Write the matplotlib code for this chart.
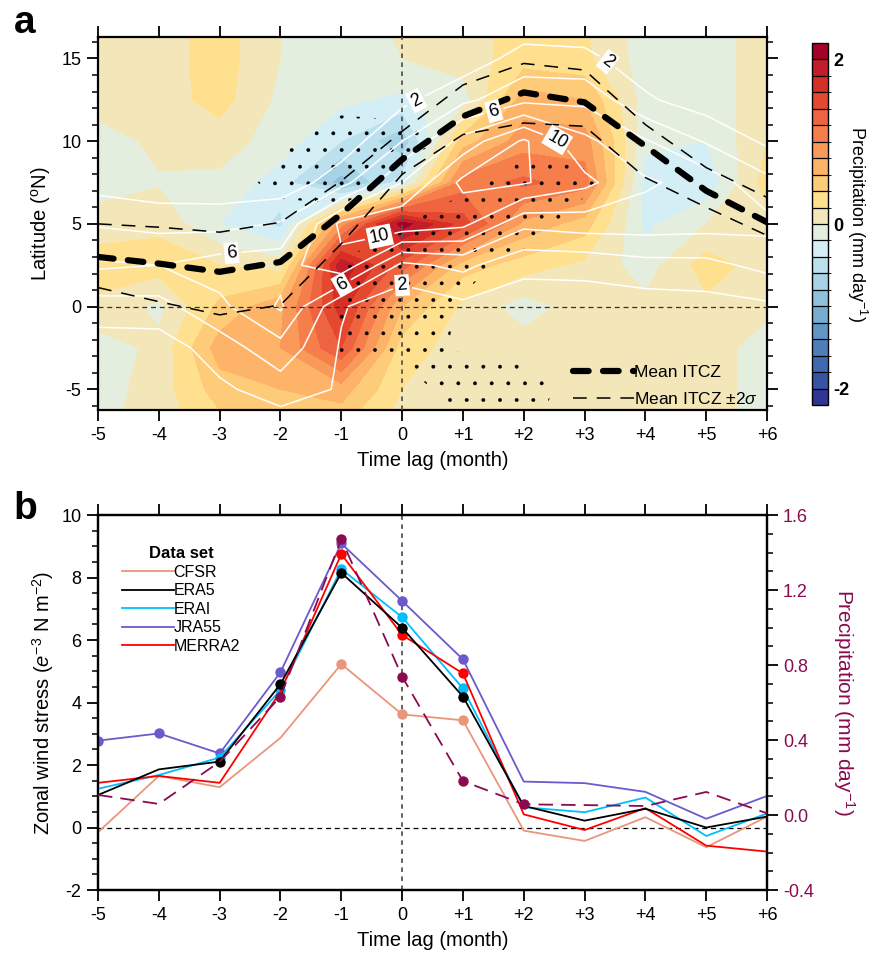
import numpy as np
import matplotlib
matplotlib.use('Agg')
import matplotlib.pyplot as plt
from matplotlib.colors import ListedColormap, BoundaryNorm
from matplotlib.lines import Line2D
from matplotlib.ticker import MultipleLocator, FixedLocator

plt.rcParams['font.family'] = ['Liberation Sans', 'DejaVu Sans']
plt.rcParams['mathtext.fontset'] = 'custom'
plt.rcParams['mathtext.rm'] = 'Liberation Sans'
plt.rcParams['mathtext.it'] = 'Liberation Sans:italic'
plt.rcParams['axes.unicode_minus'] = False
plt.rcParams['hatch.color'] = 'black'
plt.rcParams['hatch.linewidth'] = 0.3

# ---------------- data: panel a ----------------
months = [-5, -4, -3, -2, -1, 0, 1, 2, 3, 4, 5, 6]
lats = [-7.5, -5, -2.5, 0, 2.5, 5, 7.5, 10, 12.5, 15, 17.5]

# precipitation anomaly (mm/day), one list per month, values from south to north
anom_m5 = [-0.05, -0.1, -0.1, 0.15, 0.3, 0.1, -0.1, -0.1, 0.1, 0.1, 0.1]
anom_m4 = [0.1, 0.1, 0.05, -0.05, 0.3, 0.15, -0.02, 0.05, 0.1, 0.1, 0.1]
anom_m3 = [0.3, 0.5, 0.7, 0.45, 0.2, -0.2, -0.05, 0.1, 0.28, 0.3, 0.3]
anom_m2 = [0.4, 0.6, 0.8, 0.75, 0.1, -0.45, -0.3, -0.1, -0.05, 0.0, 0.0]
anom_m1 = [0.4, 0.7, 1.4, 1.7, 1.95, 0.9, -0.9, -0.4, -0.15, -0.1, -0.1]
anom_0 = [0.1, 0.2, 0.3, 0.6, 1.3, 2.1, -0.3, -0.75, -0.25, 0.0, 0.05]
anom_p1 = [0.1, 0.1, 0.1, 0.15, 0.5, 1.5, 1.1, 0.5, -0.1, 0.1, 0.1]
anom_p2 = [0.1, 0.1, 0.1, -0.1, 0.3, 0.75, 1.25, 0.9, 0.7, 0.3, 0.3]
anom_p3 = [0.1, 0.1, 0.1, 0.1, 0.15, 0.5, 1.1, 0.9, 0.6, 0.25, 0.2]
anom_p4 = [0.1, 0.1, 0.1, 0.05, -0.1, -0.25, -0.3, -0.15, -0.1, -0.1, -0.1]
anom_p5 = [0.1, 0.1, 0.1, 0.15, 0.3, 0.0, -0.35, -0.2, -0.1, -0.1, -0.1]
anom_p6 = [-0.1, -0.1, -0.1, 0.05, 0.1, 0.1, 0.3, 0.2, 0.1, 0.1, 0.1]

# composite precipitation (mm/day) shown by white contours
prcp_m5 = [0.4, 0.6, 0.8, 3.2, 6.3, 3.8, 1.2, 0.6, 0.4, 0.3, 0.3]
prcp_m4 = [0.4, 0.6, 0.9, 3.3, 6.0, 3.4, 0.6, 0.5, 0.4, 0.3, 0.3]
prcp_m3 = [0.8, 1.6, 3.0, 5.5, 7.0, 3.3, 0.6, 0.4, 0.3, 0.3, 0.3]
prcp_m2 = [0.6, 3.0, 5.3, 8.3, 7.2, 4.2, 0.6, 0.4, 0.3, 0.3, 0.3]
prcp_m1 = [1.0, 1.8, 1.8, 2.2, 9.5, 10.5, 3.2, 0.8, 0.4, 0.3, 0.3]
prcp_0 = [0.3, 0.5, 0.9, 0.4, 3.5, 11.5, 8.0, 4.0, 1.5, 0.5, 0.3]
prcp_p1 = [0.3, 0.4, 0.6, 1.5, 4.5, 10.5, 12.5, 8.8, 3.5, 0.8, 0.4]
prcp_p2 = [0.3, 0.4, 0.6, 1.0, 2.5, 6.5, 12.2, 12.3, 5.5, 2.8, 0.5]
prcp_p3 = [0.3, 0.4, 0.6, 1.0, 2.6, 7.0, 10.5, 8.5, 5.5, 2.5, 0.6]
prcp_p4 = [0.3, 0.4, 0.6, 1.0, 3.3, 7.0, 8.3, 6.2, 2.3, 0.9, 0.4]
prcp_p5 = [0.3, 0.4, 0.6, 1.2, 3.4, 6.8, 7.2, 3.8, 0.9, 0.5, 0.3]
prcp_p6 = [0.3, 0.4, 0.6, 1.6, 4.6, 6.6, 4.6, 1.6, 0.6, 0.4, 0.3]

# significance (values above 0.5 are stippled)
sig_m5 = [0, 0, 0, 0, 0, 0, 0, 0, 0, 0, 0]
sig_m4 = [0, 0, 0, 0, 0, 0, 0, 0, 0, 0, 0]
sig_m3 = [0, 0, 0, 0, 0, 0, 0, 0, 0, 0, 0]
sig_m2 = [0, 0, 0, 0, 0, 0, 0.8, 0.3, 0, 0, 0]
sig_m1 = [0, 0.2, 0.55, 0.55, 0.55, 0.1, 1.0, 1.0, 0.2, 0, 0]
sig_0 = [0, 0, 0.8, 1.0, 1.0, 0.45, 0.2, 0.8, 0.2, 0, 0]
sig_p1 = [0.6, 1.0, 0.41, 0.41, 0.7, 1.0, 0.3, 0.3, 0, 0, 0]
sig_p2 = [0.6, 1.0, 0.2, 0.2, 0.3, 0.8, 0.9, 0.3, 0, 0, 0]
sig_p3 = [0, 0, 0, 0, 0, 0.3, 0.6, 0.3, 0, 0, 0]
sig_p4 = [0, 0, 0, 0, 0, 0, 0, 0, 0, 0, 0]
sig_p5 = [0, 0, 0, 0, 0, 0, 0, 0, 0, 0, 0]
sig_p6 = [0, 0, 0, 0, 0, 0, 0, 0, 0, 0, 0]

itcz_mean = [3.0, 2.6, 2.1, 2.7, 5.6, 8.9, 11.5, 12.95, 12.35, 9.7, 7.0, 5.1]
itcz_upper = [5.0, 4.8, 4.5, 5.1, 7.6, 10.6, 13.4, 14.7, 14.3, 11.0, 8.4, 6.6]
itcz_lower = [1.15, 0.3, -0.5, 0.1, 3.8, 8.0, 10.4, 11.1, 10.9, 7.8, 6.0, 4.3]

# ---------------- data: panel b ----------------
lag = [-5, -4, -3, -2, -1, 0, 1, 2, 3, 4, 5, 6]
lag_labels = ['-5', '-4', '-3', '-2', '-1', '0', '+1', '+2', '+3', '+4', '+5', '+6']
cfsr = [-0.15, 1.65, 1.29, 2.87, 5.23, 3.62, 3.43, -0.10, -0.43, 0.33, -0.63, 0.35]
era5 = [1.04, 1.86, 2.11, 4.59, 8.15, 6.39, 4.19, 0.69, 0.22, 0.60, 0.0, 0.35]
erai = [1.24, 1.68, 2.24, 4.40, 8.27, 6.73, 4.45, 0.65, 0.49, 0.96, -0.27, 0.45]
jra55 = [2.78, 3.01, 2.37, 4.97, 9.09, 7.25, 5.38, 1.47, 1.42, 1.14, 0.28, 1.01]
merra2 = [1.43, 1.65, 1.43, 4.35, 8.75, 6.16, 4.93, 0.42, -0.08, 0.62, -0.58, -0.77]
precip = [0.107, 0.059, 0.284, 0.631, 1.472, 0.738, 0.181, 0.057, 0.053, 0.048, 0.123, 0.009]

cfsr_sig = [0, 0, 0, 0, 1, 1, 1, 0, 0, 0, 0, 0]
era5_sig = [0, 0, 1, 1, 1, 1, 1, 0, 0, 0, 0, 0]
erai_sig = [0, 0, 1, 1, 1, 1, 1, 0, 0, 0, 0, 0]
jra55_sig = [1, 1, 1, 1, 1, 1, 1, 0, 0, 0, 0, 0]
merra2_sig = [0, 0, 0, 0, 1, 1, 1, 0, 0, 0, 0, 0]
precip_sig = [0, 0, 0, 1, 1, 1, 1, 1, 0, 0, 0, 0]

# ---------------- styling ----------------
cmap_colors = ['#313695', '#3953A4', '#4169AF', '#4F7FBA', '#6196C6', '#78ADD2',
               '#8FC1DC', '#A6D3E6', '#BCE1EE', '#D3EEF5', '#E4EEDE', '#F3E6B8',
               '#FEE08F', '#FECB78', '#FDB468', '#FA9A5A', '#F67E4B', '#EE6340',
               '#E4482F', '#D63026', '#C11D2A', '#A50026']
levels = np.round(np.arange(-2.0, 2.01, 0.2), 2)
cmap = ListedColormap(cmap_colors)
norm = BoundaryNorm(levels, ncolors=len(cmap_colors), extend='both')

maroon = '#8B0A50'
c_cfsr, c_era5, c_erai, c_jra, c_merra = '#E9967A', 'black', '#00BFFF', '#6A5ACD', '#FF0000'

fig = plt.figure(figsize=(8.69, 9.71), dpi=100)
axa = fig.add_axes([0.1128, 0.5778, 0.7699, 0.3841])
axb = fig.add_axes([0.1128, 0.0834, 0.7699, 0.3862])
cax = fig.add_axes([0.9344, 0.5829, 0.0184, 0.3728])

# ----- panel a -----
anom = np.array([anom_m5, anom_m4, anom_m3, anom_m2, anom_m1, anom_0,
                 anom_p1, anom_p2, anom_p3, anom_p4, anom_p5, anom_p6]).T
prcp = np.array([prcp_m5, prcp_m4, prcp_m3, prcp_m2, prcp_m1, prcp_0,
                 prcp_p1, prcp_p2, prcp_p3, prcp_p4, prcp_p5, prcp_p6]).T
sig = np.array([sig_m5, sig_m4, sig_m3, sig_m2, sig_m1, sig_0,
                sig_p1, sig_p2, sig_p3, sig_p4, sig_p5, sig_p6]).T
X, Y = np.meshgrid(months, lats)

axa.set_xlim(-5, 6)
axa.set_ylim(-6.25, 16.3)

cf = axa.contourf(X, Y, anom, levels=levels, cmap=cmap, norm=norm, extend='both')
axa.contourf(X, Y, sig, levels=[0.5, 5], colors='none', hatches=['.'])
cs_lab = axa.contour(X, Y, prcp, levels=[2, 6, 10], colors='white', linewidths=1.1)
cs_unl = axa.contour(X, Y, prcp, levels=[4, 8, 12], colors='white', linewidths=1.1)

axa.axvline(0, color='#555555', lw=1.3, dashes=(2.5, 2.5), zorder=3)
axa.axhline(0, color='#333333', lw=0.9, dashes=(4, 3), zorder=3)

thick_kw = dict(color='black', lw=4.5, dashes=(2.5, 2.3), dash_capstyle='round')
thin_kw = dict(color='black', lw=1.1, dashes=(9, 6.5))
axa.plot(months, itcz_mean, zorder=5, **thick_kw)
axa.plot(months, itcz_upper, zorder=5, **thin_kw)
axa.plot(months, itcz_lower, zorder=5, **thin_kw)

axa.set_xlim(-5, 6)
axa.set_ylim(-6.25, 16.3)

lbls = axa.clabel(cs_lab, inline=True, fmt='%d', fontsize=13, colors='black',
                  manual=[(0.3, 12.0), (1.45, 12.6), (3.4, 14.9), (2.5, 9.6),
                          (-0.4, 4.8), (-2.8, 3.0), (-1.0, 1.4), (0.0, 1.3)])
for t in lbls:
    t.set_bbox(dict(boxstyle='square,pad=0.12', fc='white', ec='none'))
    t.set_zorder(6)

axa.set_xticks(months)
axa.set_xticklabels(lag_labels)
axa.yaxis.set_major_locator(FixedLocator([-5, 0, 5, 10, 15]))
axa.yaxis.set_minor_locator(MultipleLocator(1))
axa.set_ylabel('Latitude ($\\mathregular{^o}$N)', fontsize=14.5, labelpad=6)
axa.set_xlabel('Time lag (month)', fontsize=14.5, labelpad=5)

leg_a = axa.legend([Line2D([], [], **thick_kw), Line2D([], [], **thin_kw)],
                   ['Mean ITCZ', 'Mean ITCZ $\\pm$2$\\sigma$'],
                   loc='lower right', bbox_to_anchor=(1.01, -0.035), frameon=False,
                   fontsize=12.5, handlelength=3.5, handletextpad=0.0, labelspacing=0.65)

# colorbar
cb = fig.colorbar(cf, cax=cax, ticks=[-2, 0, 2], drawedges=True,
                  extendrect=True, extendfrac=0.05)
cb.outline.set_linewidth(1.0)
cb.dividers.set_linewidth(0.9)
cb.ax.tick_params(length=0, pad=4, labelsize=13)
for t in cb.ax.get_yticklabels():
    t.set_fontweight('bold')
cb.set_label('Precipitation (mm day$^{-1}$)', rotation=-90, fontsize=13, labelpad=14)

# ----- panel b -----
axb.axvline(0, color='#555555', lw=1.3, dashes=(2.5, 2.5), zorder=1)
axb.axhline(0, color='black', lw=0.9, dashes=(4, 3), zorder=1)

axr = axb.twinx()
lag_arr = np.array(lag)

def draw(ax, y, sigf, color, z, **kw):
    y = np.array(y)
    m = np.array(sigf).astype(bool)
    ax.plot(lag_arr, y, color=color, lw=1.3, zorder=z, **kw)
    ax.plot(lag_arr[m], y[m], 'o', color=color, ms=7.5, zorder=z, mec='none')

draw(axb, cfsr, cfsr_sig, c_cfsr, 2)
draw(axb, jra55, jra55_sig, c_jra, 3)
draw(axb, erai, erai_sig, c_erai, 4)
draw(axb, merra2, merra2_sig, c_merra, 5)
draw(axb, era5, era5_sig, c_era5, 6)
draw(axr, precip, precip_sig, maroon, 7, dashes=(8, 4.5))

axb.set_xlim(-5, 6)
axb.set_ylim(-2, 10)
axr.set_ylim(-0.4, 1.6)
axb.set_xticks(lag)
axb.set_xticklabels(lag_labels)
axb.yaxis.set_major_locator(MultipleLocator(2))
axb.yaxis.set_minor_locator(MultipleLocator(0.5))
axr.yaxis.set_major_locator(MultipleLocator(0.4))
axr.yaxis.set_minor_locator(MultipleLocator(0.1))
axr.yaxis.set_major_formatter(matplotlib.ticker.FormatStrFormatter('%.1f'))
axr.tick_params(axis='y', colors=maroon, labelcolor=maroon)
axr.tick_params(axis='y', which='both', color='black')
axr.set_ylabel('Precipitation (mm day$^{-1}$)', rotation=-90, color=maroon,
               fontsize=15, labelpad=31)
axb.set_ylabel('Zonal wind stress ($e^{-3}$ N m$^{-2}$)', fontsize=14.5, labelpad=4)
axb.set_xlabel('Time lag (month)', fontsize=14.5, labelpad=5)

handles = [Line2D([], [], color=c, lw=1.3) for c in [c_cfsr, c_era5, c_erai, c_jra, c_merra]]
axb.legend(handles, ['CFSR', 'ERA5', 'ERAI', 'JRA55', 'MERRA2'], title='Data set',
           loc='upper left', bbox_to_anchor=(0.015, 0.955), frameon=False, fontsize=11.5,
           handlelength=3.2, handletextpad=0.0, labelspacing=0.22,
           title_fontproperties={'weight': 'bold', 'size': 12})

# axes styling
for ax in (axa, axb, axr):
    for s in ax.spines.values():
        s.set_linewidth(1.6)
for ax in (axa, axb):
    ax.tick_params(axis='both', which='major', direction='out', length=8, width=1.3,
                   labelsize=13, top=True, right=(ax is axa), pad=4)
    ax.tick_params(axis='both', which='minor', direction='out', length=4.5, width=1.1,
                   top=False, right=(ax is axa))
    ax.tick_params(axis='x', which='minor', bottom=False, top=False)
axr.tick_params(axis='y', which='major', direction='out', length=8, width=1.3, labelsize=13)
axr.tick_params(axis='y', which='minor', direction='out', length=4.5, width=1.1)

fig.text(0.016, 0.966, 'a', fontsize=28, fontweight='bold', va='baseline')
fig.text(0.016, 0.4655, 'b', fontsize=28, fontweight='bold', va='baseline')

fig.savefig('out.png', dpi=100)
